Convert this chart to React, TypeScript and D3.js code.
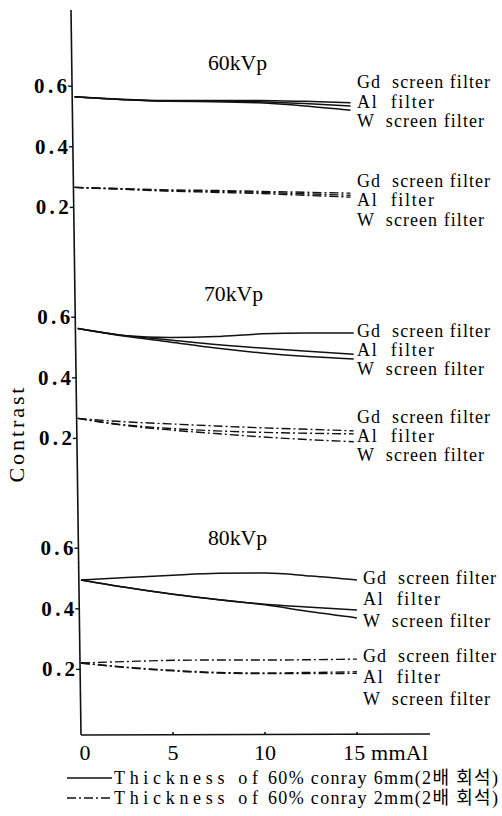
import React from 'react'
import * as d3 from 'd3'

// filter thickness, mm Al
const thickness = [0, 2.5, 5, 7.5, 10, 12.5, 15]
const filters = ['Gd  screen filter', 'Al  filter', 'W  screen filter']
const kvps = ['60kVp', '70kVp', '80kVp']
const yTicks = [0.2, 0.4, 0.6]
const xTicks = [0, 5, 10]

// contrast, 6mm conray (solid) — Gd, Al, W
const kv60Thick = [
  [0.565, 0.557, 0.553, 0.553, 0.553, 0.55, 0.545],
  [0.565, 0.556, 0.551, 0.551, 0.549, 0.543, 0.535],
  [0.565, 0.556, 0.55, 0.549, 0.545, 0.535, 0.521],
]
const kv70Thick = [
  [0.563, 0.54, 0.533, 0.536, 0.545, 0.548, 0.548],
  [0.563, 0.54, 0.525, 0.51, 0.498, 0.488, 0.478],
  [0.563, 0.538, 0.518, 0.498, 0.482, 0.47, 0.462],
]
const kv80Thick = [
  [0.495, 0.503, 0.511, 0.517, 0.518, 0.508, 0.495],
  [0.495, 0.47, 0.448, 0.43, 0.415, 0.405, 0.396],
  [0.495, 0.47, 0.448, 0.43, 0.413, 0.39, 0.37],
]
// contrast, 2mm conray (dash-dot) — Gd, Al, W
const kv60Thin = [
  [0.266, 0.262, 0.258, 0.256, 0.253, 0.25, 0.247],
  [0.266, 0.261, 0.256, 0.253, 0.25, 0.245, 0.24],
  [0.266, 0.26, 0.254, 0.25, 0.246, 0.24, 0.234],
]
const kv70Thin = [
  [0.266, 0.255, 0.248, 0.241, 0.235, 0.23, 0.225],
  [0.266, 0.245, 0.233, 0.225, 0.22, 0.217, 0.215],
  [0.266, 0.243, 0.228, 0.216, 0.205, 0.196, 0.189],
]
const kv80Thin = [
  [0.221, 0.226, 0.23, 0.231, 0.231, 0.232, 0.234],
  [0.221, 0.207, 0.197, 0.19, 0.188, 0.19, 0.192],
  [0.221, 0.206, 0.195, 0.188, 0.186, 0.186, 0.187],
]
const legendHead = 'Thickness of'
const legendTail = ['60% conray 6mm(2배 회석)', '60% conray 2mm(2배 회석)']

const W = 502
const H = 816
const serif = '"Liberation Serif", "DejaVu Serif", serif'
const korean = '"Liberation Serif", "Noto Sans CJK KR", serif'
const DASH = '9,3,2,3'

// each panel: baseline (contrast 0) and where its filter labels start
const panels = [
  { base: 268, labelX: 357, top: 0.61, top2: 0.284, gap: 19.5 },
  { base: 499, labelX: 357, top: 0.551, top2: 0.267, gap: 19 },
  { base: 730, labelX: 363, top: 0.5, top2: 0.241, gap: 21.5 },
]
const thickSets = [kv60Thick, kv70Thick, kv80Thick]
const thinSets = [kv60Thin, kv70Thin, kv80Thin]

const axisBottom = 735
const axisTop = 10
const lean = 0.0138 // the printed y axis leans a little
const axisX = (y: number) => 81 - (axisBottom - y) * lean

const x = d3.scaleLinear().domain([0, 15]).range([81, 357])

export default function App() {
  return (
    <svg width={W} height={H} style={{ position: 'absolute', left: 0, top: 0, background: '#fff' }}>
      <g fill="none" stroke="#111" strokeWidth={1.6}>
        <line x1={axisX(axisTop)} y1={axisTop} x2={axisX(axisBottom)} y2={axisBottom} />
        <line x1={axisX(axisBottom)} y1={axisBottom} x2={430} y2={axisBottom - 1} />
        {xTicks.concat([15]).slice(1).map(t => (
          <line key={t} x1={x(t)} x2={x(t)} y1={axisBottom} y2={axisBottom - 3} />
        ))}
      </g>

      {panels.map((p, pi) => {
        const shift = -(axisBottom - p.base) * lean
        const y = d3.scaleLinear().domain([0, 1]).range([p.base, p.base - 303])
        const line = d3.line<number>()
          .x((_, i) => x(thickness[i]) + shift)
          .y(v => y(v))
          .curve(d3.curveMonotoneX)
        return (
          <g key={pi}>
            <text x={208 + (pi === 1 ? -4 : 0)} y={y(0) - (pi === 2 ? 185 : 198)} fontFamily={serif} fontSize={21}
              textLength={59} lengthAdjust="spacingAndGlyphs">{kvps[pi]}</text>
            {yTicks.map(t => (
              <g key={t}>
                <line x1={axisX(y(t)) - 4} x2={axisX(y(t))} y1={y(t)} y2={y(t)} stroke="#111" strokeWidth={1.4} />
                <text x={axisX(y(t)) - 5} y={y(t) + 7} textAnchor="end" fontFamily={serif} fontSize={21}
                  fontWeight="bold" textLength={33} lengthAdjust="spacing">{t.toFixed(1)}</text>
              </g>
            ))}
            {thickSets[pi].map((s, i) => (
              <path key={'a' + i} d={line(s) || ''} fill="none" stroke="#111" strokeWidth={1.5} />
            ))}
            {thinSets[pi].map((s, i) => (
              <path key={'b' + i} d={line(s) || ''} fill="none" stroke="#111" strokeWidth={1.4} strokeDasharray={DASH} />
            ))}
            {[p.top, p.top2].map((v, gi) => filters.map((f, i) => (
              <text key={gi + f} x={p.labelX} y={y(v) + i * p.gap + 5} fontFamily={serif} fontSize={18}
                textLength={i === 1 ? 77 : i === 0 ? 133 : 127} lengthAdjust="spacing"
                style={{ whiteSpace: 'pre' }}>{f}</text>
            )))}
          </g>
        )
      })}

      <text transform="translate(24,435) rotate(-90)" textAnchor="middle" fontFamily={serif} fontSize={22}
        textLength={95} lengthAdjust="spacing">Contrast</text>

      {xTicks.map(t => (
        <text key={t} x={x(t) + (t === 0 ? 4 : 0)} y={760} textAnchor="middle" fontFamily={serif} fontSize={22}>{t}</text>
      ))}
      <text x={x(15) - 14} y={760} fontFamily={serif} fontSize={22} textLength={85} lengthAdjust="spacing"
        style={{ whiteSpace: 'pre' }}>15 mmAl</text>

      {legendTail.map((s, i) => (
        <g key={i}>
          <line x1={67} x2={112} y1={778 + i * 20} y2={778 + i * 20} stroke="#111" strokeWidth={1.5}
            strokeDasharray={i ? DASH : undefined} />
          <text x={114} y={784 + i * 20} fontFamily={serif} fontSize={18} textLength={144}
            lengthAdjust="spacing">{legendHead}</text>
          <text x={268} y={784 + i * 20} fontFamily={korean} fontSize={18} textLength={230}
            lengthAdjust="spacing">{s}</text>
        </g>
      ))}
    </svg>
  )
}
